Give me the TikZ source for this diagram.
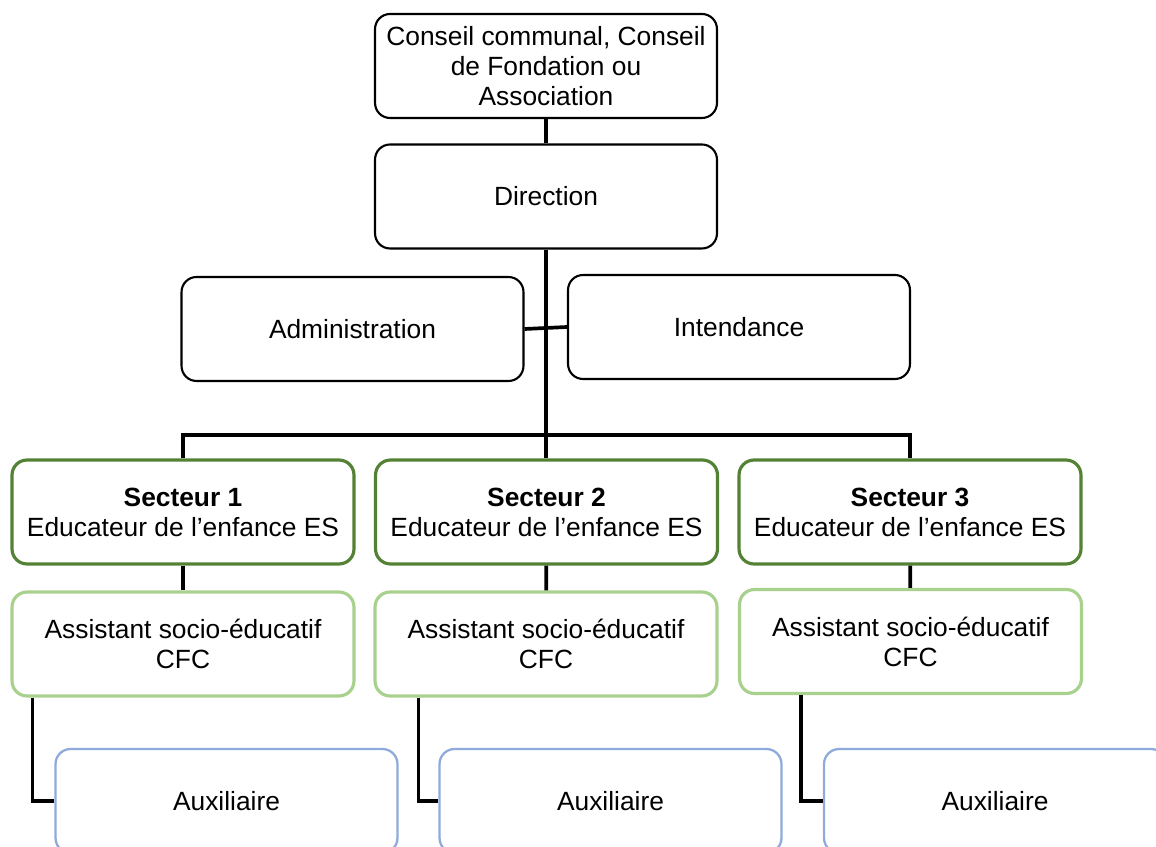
\documentclass[tikz,border=0pt]{standalone}
\usepackage{fontspec}
\setmainfont{Liberation Sans}
\usepackage{tikz}
\usetikzlibrary{positioning}
\definecolor{vertfonce}{RGB}{84,130,53}
\definecolor{vertclair}{RGB}{169,209,142}
\definecolor{bleuclair}{RGB}{143,170,220}
\tikzset{
  boite/.style={draw=black, line width=1.2pt, rounded corners=0.3cm, fill=white,
    minimum width=6.84cm, minimum height=2.08cm, align=center, inner sep=2pt,
    font=\fontsize{15}{17}\selectfont},
  secteur/.style={boite, draw=vertfonce, line width=1.8pt},
  assistant/.style={boite, draw=vertclair, line width=1.8pt},
  auxiliaire/.style={boite, draw=bleuclair, line width=1.3pt},
  lien/.style={line width=2.1pt}
}
\begin{document}
\begin{tikzpicture}[x=0.02cm,y=-0.02cm]
\useasboundingbox (0,0) rectangle (1156,847);
\clip (0,0) rectangle (1156,847);
% haut de l'organigramme
\node[boite] (conseil) at (546,66) {Conseil communal, Conseil\\de Fondation ou\\Association};
\node[boite] (direction) at (546,196.5) {Direction};
\node[boite] (admin) at (352.5,329) {Administration};
\node[boite] (intendance) at (739,327) {Intendance};
\coordinate (bus) at (546,435);
% secteurs
\node[secteur] (s1) at (183,512) {\textbf{Secteur 1}\\Educateur de l’enfance ES};
\node[secteur] (s2) at (546.5,512) {\textbf{Secteur 2}\\Educateur de l’enfance ES};
\node[secteur] (s3) at (910,512) {\textbf{Secteur 3}\\Educateur de l’enfance ES};
\node[assistant] (a1) at (183,644) {Assistant socio-éducatif\\CFC};
\node[assistant] (a2) at (546,644) {Assistant socio-éducatif\\CFC};
\node[assistant] (a3) at (910.5,641.5) {Assistant socio-éducatif\\CFC};
\node[auxiliaire] (x1) at (226.5,801) {Auxiliaire};
\node[auxiliaire] (x2) at (610.5,801) {Auxiliaire};
\node[auxiliaire] (x3) at (995,801) {Auxiliaire};
% liens
\draw[lien] (conseil) -- (direction);
\draw[lien] (direction.south) -- (bus);
\draw[lien] (admin.east) -- (intendance.west);
\draw[lien] (s1.north) |- (bus) -| (s3.north);
\draw[lien] (bus) -- (bus |- s2.north);
\foreach \i/\dx in {1/0.44,2/0.9,3/1.26}{
  \draw[lien] (s\i) -- (a\i);
  \draw[lien] ([xshift=\dx cm]a\i.south west) |- (x\i.west);
}
\end{tikzpicture}
\end{document}
